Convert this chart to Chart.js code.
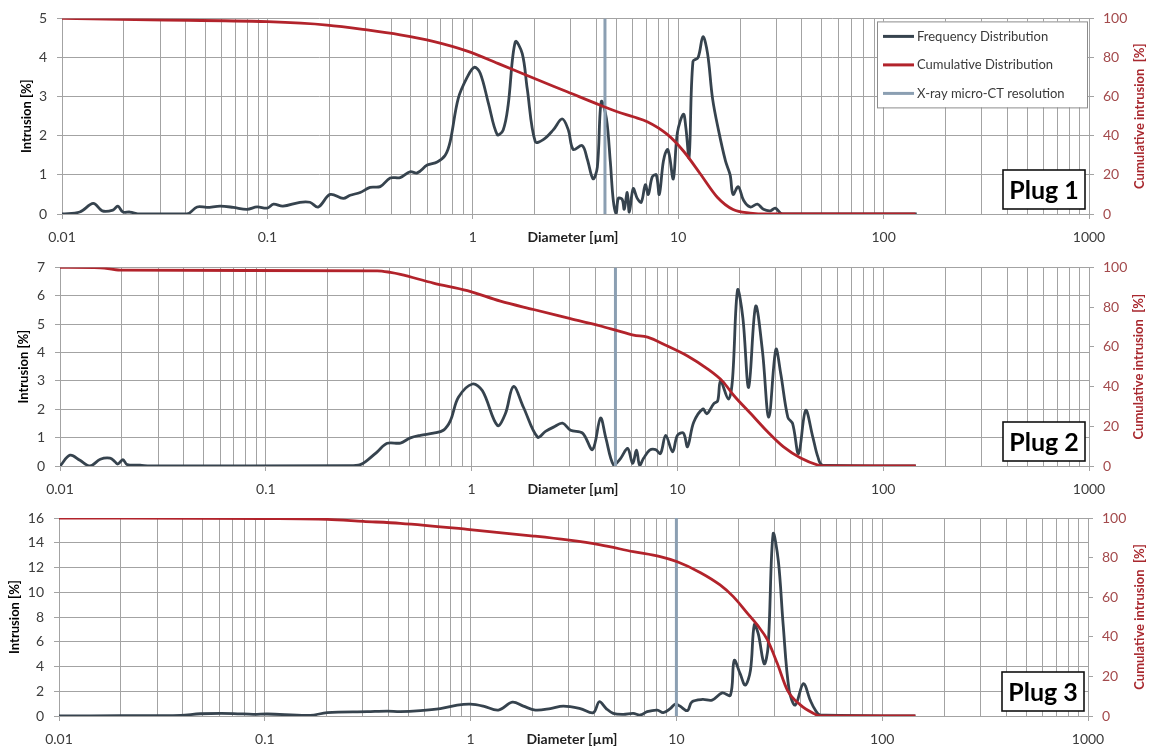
<!DOCTYPE html>
<html>
<head>
<meta charset="utf-8">
<title>Pore size distribution - Plugs 1-3</title>
<script src="https://cdn.jsdelivr.net/npm/chart.js@4.4.1/dist/chart.umd.min.js"></script>
<style>
  body { margin: 0; background: #fff; overflow: hidden; }
  .panel { position: absolute; left: 0; width: 1151px; height: 249px; }
  canvas { display: block; }
</style>
</head>
<body>
<div class="panel" style="top:0"><canvas id="plug1" width="1151" height="249"></canvas></div>
<div class="panel" style="top:249px"><canvas id="plug2" width="1151" height="249"></canvas></div>
<div class="panel" style="top:498px"><canvas id="plug3" width="1151" height="249"></canvas></div>
<script>
// ---- data (diameter in µm, intrusion in %) ----
const xMajorTicks = [0.01, 0.1, 1, 10, 100, 1000];
const leftAxisMax = [5, 7, 16];
const leftAxisStep = [1, 1, 2];
const ctResolution = [4.4, 5, 10];
const plugNames = ['Plug 1', 'Plug 2', 'Plug 3'];

// Plug 1
const p1FreqDiam = [0.01, 0.0122, 0.0142, 0.0157, 0.0177, 0.0187, 0.0198, 0.0214, 0.024, 0.0406,
  0.0455, 0.0508, 0.0589, 0.0681, 0.0796, 0.0891, 0.0997, 0.107, 0.119, 0.144,
  0.161, 0.177, 0.202, 0.234, 0.253, 0.283, 0.316, 0.354, 0.396, 0.443,
  0.495, 0.536, 0.600, 0.671, 0.734, 0.776, 0.849, 0.940, 1.016, 1.087,
  1.189, 1.315, 1.406, 1.486, 1.610, 1.741, 1.841, 2.014, 2.203, 2.465,
  2.723, 2.917, 3.083, 3.41, 3.61, 3.85, 4.04, 4.22, 4.47, 4.67,
  4.83, 4.99, 5.11, 5.34, 5.46, 5.65, 5.78, 6.04, 6.32, 6.61,
  6.92, 7.15, 7.48, 7.82, 8.09, 8.47, 8.85, 9.06, 9.47, 9.91,
  10.6, 10.9, 11.3, 11.8, 12.5, 13.2, 13.9, 14.7, 15.7, 17.0,
  17.9, 18.5, 19.6, 20.8, 22.4, 24.3, 26.0, 28.1, 29.7, 32.2, 145];
const p1Freq = [0, 0.05, 0.27, 0.08, 0.1, 0.2, 0.05, 0.05, 0, 0,
  0.18, 0.17, 0.2, 0.17, 0.12, 0.18, 0.15, 0.25, 0.2, 0.3,
  0.3, 0.18, 0.5, 0.4, 0.48, 0.55, 0.68, 0.7, 0.92, 0.93,
  1.08, 1.05, 1.25, 1.33, 1.5, 1.85, 2.95, 3.5, 3.75, 3.6,
  2.85, 2.03, 2.15, 2.78, 4.4, 4.1, 3.2, 1.85, 1.9, 2.15,
  2.43, 2.15, 1.65, 1.75, 1.4, 0.9, 1.2, 2.87, 2.45, 1.35,
  0.35, 0, 0.4, 0.37, 0.12, 0.55, 0.05, 0.65, 0.4, 0.3,
  0.75, 0.5, 0.95, 1.0, 0.5, 1.35, 1.65, 1.5, 0.9, 2.08,
  2.55, 2.2, 1.45, 3.9, 4.0, 4.53, 4.1, 2.95, 2.15, 1.35,
  1.0, 0.5, 0.7, 0.35, 0.18, 0.25, 0.12, 0.08, 0.15, 0, 0];
const p1CumDiam = [0.01, 0.0268, 0.1, 0.195, 0.306, 0.443, 0.641, 0.94, 1.36, 1.97, 2.88, 4.18,
  5.05, 6.04, 7.07, 8.85, 10.6, 12.8, 15.5, 18.5, 22.4, 27.2, 143];
const p1Cum = [100, 99.3, 98.3, 96.6, 94.1, 91.6, 88.3, 83.3, 76.5, 69.5, 62.5, 55.6,
  52.3, 49.7, 47.2, 40.7, 32.2, 20.6, 8.6, 2.3, 0.5, 0, 0];

// Plug 2
const p2FreqDiam = [0.01, 0.0112, 0.0125, 0.014, 0.0157, 0.0175, 0.0185, 0.0191, 0.0202, 0.0212,
  0.0245, 0.0274, 0.257, 0.288, 0.311, 0.348, 0.389, 0.451, 0.504, 0.564,
  0.652, 0.729, 0.789, 0.863, 1.009, 1.129, 1.335, 1.459, 1.596, 1.786,
  2.089, 2.286, 2.5, 2.765, 3.026, 3.46, 3.87, 4.23, 4.48, 4.90,
  5.30, 5.73, 6.06, 6.33, 6.55, 6.85, 7.33, 7.84, 8.28, 8.77,
  9.48, 10.0, 10.7, 11.2, 12.0, 13.3, 13.9, 15.0, 15.7, 16.2,
  17.7, 18.5, 19.6, 20.8, 22.2, 24.0, 25.9, 27.8, 30.1, 31.8,
  34.4, 36.3, 38.8, 42.0, 45.5, 48.1, 50.8, 144];
const p2Freq = [0, 0.38, 0.2, 0, 0.24, 0.28, 0.15, 0.07, 0.22, 0.05,
  0.03, 0, 0.01, 0.05, 0.2, 0.5, 0.8, 0.81, 0.99, 1.08,
  1.16, 1.26, 1.6, 2.42, 2.89, 2.65, 1.43, 1.84, 2.8, 2.07,
  1.02, 1.22, 1.37, 1.51, 1.26, 1.16, 0.58, 1.69, 1.02, 0.03,
  0.27, 0.62, 0.09, 0.56, 0.03, 0.27, 0.56, 0.58, 0.44, 1.08,
  0.5, 1.08, 1.16, 0.68, 1.54, 2.01, 1.84, 2.19, 2.3, 3.0,
  2.36, 3.0, 6.2, 5.22, 2.77, 5.63, 4.05, 1.72, 4.11, 3.24,
  1.72, 1.49, 0.44, 1.96, 1.02, 0.33, 0.03, 0];
const p2CumDiam = [0.01, 0.0157, 0.0196, 0.348, 0.403, 0.451, 0.652, 0.954, 1.38, 2.0, 2.92, 4.23,
  5.01, 6.12, 7.16, 8.95, 11.2, 14.0, 16.6, 18.8, 22.7, 27.5, 32.8, 39.7, 48.1, 51.4, 144];
const p2Cum = [100, 99.8, 98.6, 98.3, 97.5, 96.5, 92.1, 88.3, 83, 78.8, 74.6, 70.5,
  68.4, 65.9, 64.9, 60.4, 55.4, 48.9, 42.6, 35.5, 26.4, 17.1, 9.6, 4, 0.5, 0, 0];

// Plug 3
const p3FreqDiam = [0.01, 0.0199, 0.039, 0.0486, 0.0703, 0.0879, 0.103, 0.166, 0.201, 0.315,
  0.394, 0.455, 0.570, 0.713, 0.861, 0.997, 1.153, 1.364, 1.596, 1.804,
  2.064, 2.44, 2.823, 3.41, 3.95, 4.22, 4.56, 4.93, 5.52, 6.17,
  6.67, 7.21, 8.07, 8.63, 9.33, 9.88, 10.4, 11.3, 11.9, 13.4,
  14.9, 16.7, 18.3, 19.1, 20.4, 21.6, 22.9, 23.9, 25.0, 26.7,
  27.9, 29.5, 31.3, 33.0, 35.3, 37.8, 41.4, 44.7, 47.3, 50.0, 145];
const p3Freq = [0, 0.02, 0.05, 0.18, 0.2, 0.13, 0.16, 0.05, 0.27, 0.35,
  0.4, 0.35, 0.43, 0.6, 0.88, 0.96, 0.8, 0.48, 1.12, 0.8,
  0.48, 0.6, 0.8, 0.6, 0.27, 1.15, 0.6, 0.21, 0.13, 0.21,
  0.08, 0.35, 0.48, 0.27, 0.6, 0.96, 0.8, 0.43, 1.15, 1.34,
  1.28, 1.87, 1.68, 4.49, 3.42, 2.49, 3.69, 7.38, 6.63, 4.22,
  5.6, 14.7, 12.5, 7.43, 2.09, 0.88, 2.62, 1.28, 0.48, 0.08, 0];
const p3CumDiam = [0.01, 0.0983, 0.201, 0.301, 0.455, 0.964, 2.02, 2.95, 4.27, 6.17, 8.34, 10.1,
  13.1, 16.3, 18.9, 22.1, 24.7, 27.7, 30.9, 34.6, 40.0, 46.2, 50.0, 145];
const p3Cum = [100, 99.7, 99.3, 98.3, 97.3, 94.3, 90.9, 88.9, 86.4, 83, 80.5, 77.9,
  72.4, 66.2, 60.3, 52, 46, 38.4, 26.6, 13.1, 5.6, 1.4, 0, 0];

// ---- styling ----
const FREQ_COLOR = '#36434e';
const CUM_COLOR = '#b2232b';
const RES_COLOR = '#8b9fb2';
const GRID_COLOR = '#a3a3a3';
const FONT = 'Lato, "Open Sans", sans-serif';

Chart.defaults.font.family = FONT;

// grid lines at 1..9 x 10^n, labels only on the decades
const xGridValues = [];
for (let e = -2; e <= 2; e++) {
  for (let m = 1; m <= 9; m++) xGridValues.push(+(m * Math.pow(10, e)).toPrecision(2));
}
xGridValues.push(1000);

function pts(xs, ys) {
  return xs.map((x, i) => ({ x: x, y: ys[i] }));
}

// titles, plug label and legend that sit in odd places
const decorations = {
  id: 'decorations',
  afterDraw(chart, args, o) {
    const { ctx, chartArea: ca } = chart;
    ctx.save();
    ctx.textBaseline = 'middle';

    ctx.font = 'bold 14px ' + FONT;
    ctx.fillStyle = '#1e1e1e';
    ctx.textAlign = 'center';
    ctx.fillText('Diameter [µm]', o.xTitleX, ca.bottom + 23);

    ctx.save();
    ctx.translate(o.rightTitleX, (ca.top + ca.bottom) / 2);
    ctx.rotate(-Math.PI / 2);
    ctx.font = 'bold 13px ' + FONT;
    ctx.fillStyle = '#a8282e';
    ctx.fillText('Cumulative intrusion  [%]', 0, 0);
    ctx.restore();

    // Plug box
    const bw = 82, bh = 39;
    const bx = ca.right - 4 - bw, by = ca.bottom - 5 - bh;
    ctx.fillStyle = '#fff';
    ctx.fillRect(bx, by, bw, bh);
    ctx.strokeStyle = '#111';
    ctx.lineWidth = 1.6;
    ctx.strokeRect(bx, by, bw, bh);
    ctx.fillStyle = '#000';
    ctx.font = 'bold 25px ' + FONT;
    ctx.fillText(o.plug, bx + bw / 2, by + bh / 2 + 1);

    if (o.legend) {
      const lx = ca.right - 212, ly = ca.top + 3, lw = 210, lh = 86;
      ctx.fillStyle = '#fff';
      ctx.fillRect(lx, ly, lw, lh);
      ctx.strokeStyle = '#8c8c8c';
      ctx.lineWidth = 1;
      ctx.strokeRect(lx + 0.5, ly + 0.5, lw, lh);
      const order = ['Frequency Distribution', 'Cumulative Distribution', 'X-ray micro-CT resolution'];
      ctx.font = '13px ' + FONT;
      ctx.textAlign = 'left';
      order.forEach((name, i) => {
        const ds = chart.data.datasets.find(d => d.label === name);
        const y = ly + 15 + i * 28.5;
        ctx.strokeStyle = ds.borderColor;
        ctx.lineWidth = 3;
        ctx.beginPath();
        ctx.moveTo(lx + 6, y);
        ctx.lineTo(lx + 37, y);
        ctx.stroke();
        ctx.fillStyle = '#3a3a3a';
        ctx.fillText(name, lx + 40, y);
      });
    }
    ctx.restore();
  }
};

function buildPanel(id, p) {
  return new Chart(document.getElementById(id), {
    type: 'line',
    data: {
      datasets: [
        {
          label: 'Cumulative Distribution', data: pts(p.cumDiam, p.cum), yAxisID: 'y2',
          borderColor: CUM_COLOR, borderWidth: 2.8, pointRadius: 0, cubicInterpolationMode: 'monotone'
        },
        {
          label: 'X-ray micro-CT resolution', data: [{ x: p.res, y: 0 }, { x: p.res, y: p.max }], yAxisID: 'y',
          borderColor: RES_COLOR, borderWidth: 3, pointRadius: 0
        },
        {
          label: 'Frequency Distribution', data: pts(p.freqDiam, p.freq), yAxisID: 'y',
          borderColor: FREQ_COLOR, borderWidth: 2.8, pointRadius: 0, tension: 0.35
        }
      ]
    },
    options: {
      responsive: false,
      animation: false,
      devicePixelRatio: 1,
      events: [],
      layout: { padding: { top: p.top, left: 0, right: 0, bottom: 0 } },
      scales: {
        x: {
          type: 'logarithmic', min: 0.01, max: 1000,
          afterBuildTicks: s => { s.ticks = xGridValues.map(v => ({ value: v })); },
          afterFit: s => { s.height = p.xHeight; },
          ticks: {
            autoSkip: false, maxRotation: 0, padding: 10, color: '#3c3c3c', font: { size: 14 },
            callback: v => xMajorTicks.includes(v) ? String(v) : ''
          },
          grid: {
            color: GRID_COLOR, tickLength: 5,
            tickColor: c => (c.tick && xMajorTicks.includes(c.tick.value)) ? GRID_COLOR : 'rgba(0,0,0,0)'
          },
          border: { color: GRID_COLOR }
        },
        y: {
          position: 'left', min: 0, max: p.max,
          afterFit: s => { s.width = p.left; },
          ticks: { stepSize: p.step, padding: 10, color: '#3c3c3c', font: { size: 14 } },
          grid: { color: GRID_COLOR, tickLength: 5 },
          border: { color: GRID_COLOR },
          title: {
            display: true, text: 'Intrusion [%]', color: '#000',
            font: { size: 13, weight: 'bold' }, padding: { top: p.leftTitlePad, bottom: 0 }
          }
        },
        y2: {
          position: 'right', min: 0, max: 100,
          afterFit: s => { s.width = 1151 - p.right; },
          ticks: { stepSize: 20, padding: 9, color: '#a34a4c', font: { size: 14 } },
          grid: { drawOnChartArea: false, color: GRID_COLOR, tickLength: 5 },
          border: { color: GRID_COLOR }
        }
      },
      plugins: {
        legend: { display: false },
        tooltip: { enabled: false },
        decorations: { plug: p.plug, legend: p.legend, xTitleX: p.xTitleX, rightTitleX: p.rightTitleX }
      }
    },
    plugins: [decorations]
  });
}

buildPanel('plug1', {
  freqDiam: p1FreqDiam, freq: p1Freq, cumDiam: p1CumDiam, cum: p1Cum,
  res: ctResolution[0], max: leftAxisMax[0], step: leftAxisStep[0], plug: plugNames[0], legend: true,
  top: 15, xHeight: 35, left: 62, right: 1089, leftTitlePad: 19, xTitleX: 573, rightTitleX: 1139.5
});
buildPanel('plug2', {
  freqDiam: p2FreqDiam, freq: p2Freq, cumDiam: p2CumDiam, cum: p2Cum,
  res: ctResolution[1], max: leftAxisMax[1], step: leftAxisStep[1], plug: plugNames[1], legend: false,
  top: 16, xHeight: 32, left: 60, right: 1089, leftTitlePad: 16, xTitleX: 573, rightTitleX: 1139
});
buildPanel('plug3', {
  freqDiam: p3FreqDiam, freq: p3Freq, cumDiam: p3CumDiam, cum: p3Cum,
  res: ctResolution[2], max: leftAxisMax[2], step: leftAxisStep[2], plug: plugNames[2], legend: false,
  top: 20, xHeight: 31, left: 59, right: 1088, leftTitlePad: 7, xTitleX: 572, rightTitleX: 1140
});
</script>
</body>
</html>
